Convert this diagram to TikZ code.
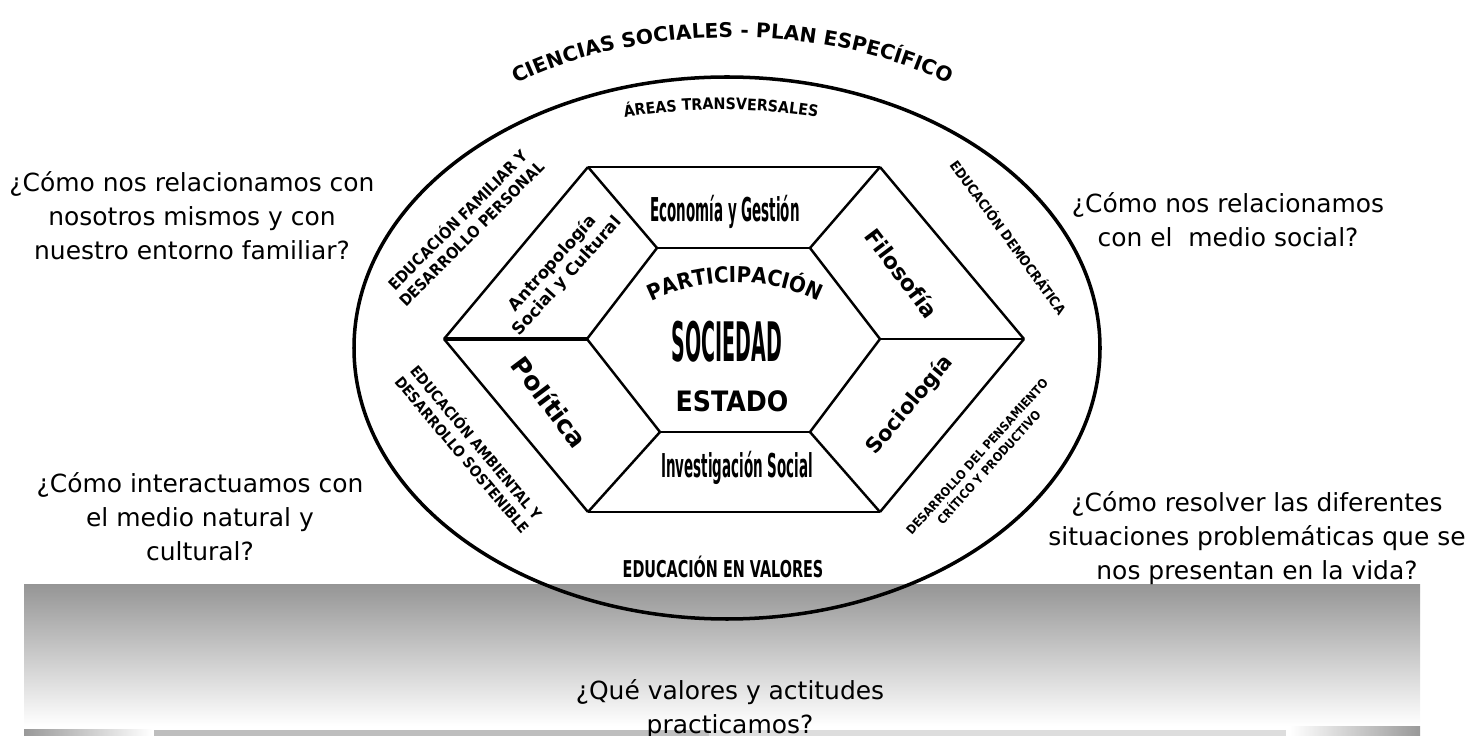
\documentclass[tikz,border=0pt]{standalone}
\usepackage{fontspec}
\setmainfont{DejaVu Sans}
\newfontfamily\ringfont[FakeStretch=0.9]{DejaVu Sans}
\newfontfamily\narrowfont[FakeStretch=0.62]{DejaVu Sans}
\newfontfamily\hexfont[FakeStretch=0.41]{DejaVu Sans}
\newfontfamily\tallfont[FakeStretch=0.35]{DejaVu Sans}
\usetikzlibrary{decorations.text}

\definecolor{bandgray}{RGB}{150,150,150}
\definecolor{bardark}{RGB}{153,153,153}
\definecolor{barmid}{RGB}{190,190,190}
\definecolor{barlight}{RGB}{221,221,221}

\newcommand{\titlestyle}{\bfseries\fontsize{11.5}{13}\selectfont}
\newcommand{\areastyle}{\ringfont\bfseries\fontsize{9}{11}\selectfont}
\newcommand{\partstyle}{\ringfont\bfseries\fontsize{12.5}{14}\selectfont}

\begin{document}
\begin{tikzpicture}[x=0.02cm, y=-0.02cm,
        question/.style={align=center, inner sep=0pt, font=\fontsize{14.2}{19.3}\selectfont},
        ring/.style 2 args={align=center, inner sep=0pt, font=\ringfont\bfseries\fontsize{#1}{#2}\selectfont},
        hexlabel/.style={inner sep=0pt, font=\hexfont\bfseries\fontsize{18.7}{20}\selectfont},
        area/.style 2 args={align=center, inner sep=0pt, font=\bfseries\fontsize{#1}{#2}\selectfont}]
    \useasboundingbox (0,0) rectangle (1482,736);

    % background band and bars
    \shade[top color=bandgray, bottom color=white] (24,585) rectangle (1420,726);
    \shade[left color=bardark, right color=white] (24,729) rectangle (152,736);
    \fill[barmid] (154,730) rectangle (709,736);
    \fill[barlight] (709,730) rectangle (1286,736);
    \shade[left color=white, right color=bardark] (1290,726) rectangle (1420,736);

    \draw[line width=2pt] (727,348) ellipse [x radius=373, y radius=271];

    % hexagon corners
    \coordinate (o1) at (588,167);
    \coordinate (o2) at (880,167);
    \coordinate (o3) at (1024,339);
    \coordinate (o4) at (880,512);
    \coordinate (o5) at (588,512);
    \coordinate (o6) at (444,339);
    \coordinate (i1) at (657,248);
    \coordinate (i2) at (810,248);
    \coordinate (i3) at (880,339);
    \coordinate (i4) at (810,432);
    \coordinate (i5) at (660,432);
    \coordinate (i6) at (587,339);

    \begin{scope}[every edge/.style={draw=black, line width=1.4pt}]
        \path [-] (o1) edge (o2);
        \path [-] (o2) edge (o3);
        \path [-] (o3) edge (o4);
        \path [-] (o4) edge (o5);
        \path [-] (o5) edge (o6);
        \path [-] (o6) edge (o1);
        \path [-] (i1) edge (i2);
        \path [-] (i2) edge (i3);
        \path [-] (i3) edge (i4);
        \path [-] (i4) edge (i5);
        \path [-] (i5) edge (i6);
        \path [-] (i6) edge (i1);
        \path [-] (o1) edge (i1);
        \path [-] (o2) edge (i2);
        \path [-] (o3) edge (i3);
        \path [-] (o4) edge (i4);
        \path [-] (o5) edge (i5);
        \path [-] (o6) edge[line width=2.3pt] (i6);
    \end{scope}

    % arched titles
    \path[decorate, decoration={text along path, text align=center,
        text={|\titlestyle|CIENCIAS SOCIALES - PLAN ESPECÍFICO}}]
        (516,84) .. controls (638,22) and (827,22) .. (949,84);
    \path[decorate, decoration={text along path, text align=center,
        text={|\areastyle|ÁREAS TRANSVERSALES}}]
        (622,118) .. controls (685,107) and (757,107) .. (820,118);
    \path[decorate, decoration={text along path, text align=center,
        text={|\partstyle|PARTICIPACIÓN}}]
        (645,305) .. controls (700,275) and (770,275) .. (825,305);

    % hexagon labels
    \node[hexlabel] (econ) at (725,212) {Economía y Gestión};
    \node[hexlabel] (invest) at (737,468) {Investigación Social};
    \node[inner sep=0pt, font=\tallfont\bfseries\fontsize{31}{33}\selectfont] (soc) at (727,342) {SOCIEDAD};
    \node[inner sep=0pt, font=\ringfont\bfseries\fontsize{16}{18}\selectfont] (estado) at (732,401) {ESTADO};
    \node[area={12.5}{14}, rotate=-53] (filo) at (902,273) {Filosofía};
    \node[area={12}{14}, rotate=50] (socio) at (910,405) {Sociología};
    \node[area={14.5}{16}, rotate=-53] (poli) at (550,402) {Política};
    \node[area={9.5}{11}, rotate=48] (antro) at (560,270) {Antropología\\Social y Cultural};

    % transversal areas on the ring
    \node[ring={9}{11}, rotate=45] (famil) at (464,226) {EDUCACIÓN FAMILIAR Y\\DESARROLLO PERSONAL};
    \node[ring={8.5}{10.5}, rotate=-50] (ambient) at (470,448) {EDUCACIÓN AMBIENTAL Y\\DESARROLLO SOSTENIBLE};
    \node[ring={7.8}{9.5}, rotate=-54] (democ) at (1009,237) {EDUCACIÓN DEMOCRÁTICA};
    \node[ring={7}{9}, rotate=48] (pensam) at (983,462) {DESARROLLO DEL PENSAMIENTO\\CRÍTICO Y PRODUCTIVO};
    \node[inner sep=0pt, font=\narrowfont\bfseries\fontsize{13.2}{15}\selectfont] (valores) at (723,567) {EDUCACIÓN EN VALORES};

    % questions
    \node[question] (q1) at (192,216) {¿Cómo nos relacionamos con\\nosotros mismos y con\\nuestro entorno familiar?};
    \node[question] (q2) at (1228,220) {¿Cómo nos relacionamos\\con el \ medio social?};
    \node[question] (q3) at (200,517) {¿Cómo interactuamos con\\el medio natural y\\cultural?};
    \node[question] (q4) at (1257,538) {¿Cómo resolver las diferentes\\situaciones problemáticas que se\\nos presentan en la vida?};
    \node[question] (q5) at (730,709) {¿Qué valores y actitudes\\practicamos?};
\end{tikzpicture}
\end{document}
